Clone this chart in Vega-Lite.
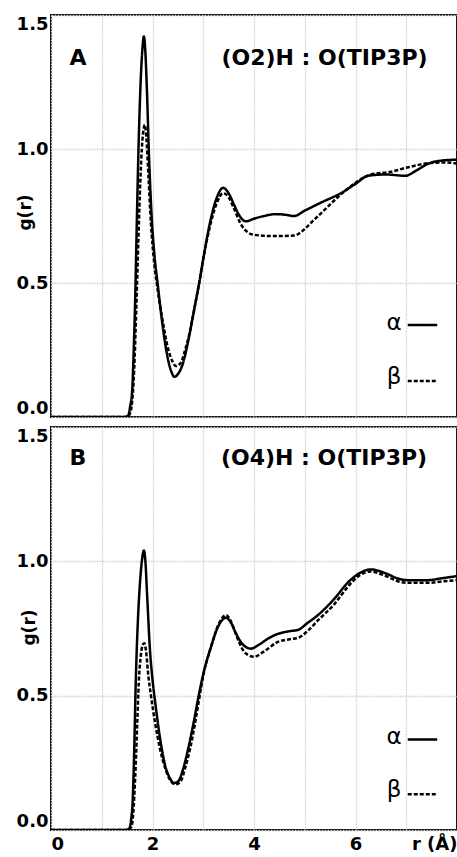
{
  "$schema": "https://vega.github.io/schema/vega-lite/v6.json",
  "padding": {"left": 15, "top": 14, "right": 0, "bottom": 0},
  "spacing": 8,
  "config": {
    "font": "DejaVu Sans",
    "view": {"stroke": "black", "strokeWidth": 2},
    "axis": {
      "labelFont": "DejaVu Sans", "labelFontWeight": "bold", "labelFontSize": 18, "labelColor": "black",
      "titleFont": "DejaVu Sans", "titleFontWeight": "bold", "titleFontSize": 17, "titleColor": "black",
      "ticks": false, "tickSize": 0, "domain": false,
      "gridColor": "#d6d6d6", "gridWidth": 1.3, "gridDash": [2, 1]
    }
  },
  "datasets": {
    "curves": [
      {"p":"A","s":"α","r":0,"g":0},{"p":"A","s":"α","r":1.45,"g":0},{"p":"A","s":"α","r":1.52,"g":0.005},{"p":"A","s":"α","r":1.56,"g":0.04},{"p":"A","s":"α","r":1.6,"g":0.1},{"p":"A","s":"α","r":1.63,"g":0.25},{"p":"A","s":"α","r":1.66,"g":0.45},{"p":"A","s":"α","r":1.69,"g":0.72},{"p":"A","s":"α","r":1.72,"g":0.97},{"p":"A","s":"α","r":1.76,"g":1.22},{"p":"A","s":"α","r":1.8,"g":1.37},{"p":"A","s":"α","r":1.83,"g":1.42},{"p":"A","s":"α","r":1.86,"g":1.36},{"p":"A","s":"α","r":1.89,"g":1.22},{"p":"A","s":"α","r":1.93,"g":0.98},{"p":"A","s":"α","r":1.98,"g":0.76},{"p":"A","s":"α","r":2.04,"g":0.6},{"p":"A","s":"α","r":2.1,"g":0.5},{"p":"A","s":"α","r":2.2,"g":0.34},{"p":"A","s":"α","r":2.3,"g":0.22},{"p":"A","s":"α","r":2.38,"g":0.165},{"p":"A","s":"α","r":2.43,"g":0.15},{"p":"A","s":"α","r":2.5,"g":0.16},{"p":"A","s":"α","r":2.6,"g":0.2},{"p":"A","s":"α","r":2.7,"g":0.28},{"p":"A","s":"α","r":2.8,"g":0.38},{"p":"A","s":"α","r":2.92,"g":0.5},{"p":"A","s":"α","r":3.0,"g":0.59},{"p":"A","s":"α","r":3.15,"g":0.74},{"p":"A","s":"α","r":3.27,"g":0.82},{"p":"A","s":"α","r":3.39,"g":0.855},{"p":"A","s":"α","r":3.5,"g":0.835},{"p":"A","s":"α","r":3.6,"g":0.795},{"p":"A","s":"α","r":3.7,"g":0.755},{"p":"A","s":"α","r":3.84,"g":0.73},{"p":"A","s":"α","r":4.0,"g":0.74},{"p":"A","s":"α","r":4.2,"g":0.75},{"p":"A","s":"α","r":4.43,"g":0.757},{"p":"A","s":"α","r":4.6,"g":0.755},{"p":"A","s":"α","r":4.79,"g":0.75},{"p":"A","s":"α","r":5.0,"g":0.77},{"p":"A","s":"α","r":5.32,"g":0.8},{"p":"A","s":"α","r":5.71,"g":0.835},{"p":"A","s":"α","r":6.0,"g":0.87},{"p":"A","s":"α","r":6.25,"g":0.9},{"p":"A","s":"α","r":6.6,"g":0.905},{"p":"A","s":"α","r":6.98,"g":0.9},{"p":"A","s":"α","r":7.2,"g":0.92},{"p":"A","s":"α","r":7.43,"g":0.945},{"p":"A","s":"α","r":7.76,"g":0.958},{"p":"A","s":"α","r":8.0,"g":0.96},
      {"p":"A","s":"β","r":0,"g":0},{"p":"A","s":"β","r":1.5,"g":0},{"p":"A","s":"β","r":1.55,"g":0.01},{"p":"A","s":"β","r":1.6,"g":0.06},{"p":"A","s":"β","r":1.64,"g":0.18},{"p":"A","s":"β","r":1.68,"g":0.4},{"p":"A","s":"β","r":1.72,"g":0.65},{"p":"A","s":"β","r":1.76,"g":0.88},{"p":"A","s":"β","r":1.8,"g":1.03},{"p":"A","s":"β","r":1.85,"g":1.09},{"p":"A","s":"β","r":1.88,"g":1.04},{"p":"A","s":"β","r":1.92,"g":0.9},{"p":"A","s":"β","r":1.97,"g":0.72},{"p":"A","s":"β","r":2.03,"g":0.58},{"p":"A","s":"β","r":2.09,"g":0.49},{"p":"A","s":"β","r":2.2,"g":0.36},{"p":"A","s":"β","r":2.3,"g":0.26},{"p":"A","s":"β","r":2.4,"g":0.205},{"p":"A","s":"β","r":2.46,"g":0.19},{"p":"A","s":"β","r":2.55,"g":0.2},{"p":"A","s":"β","r":2.65,"g":0.255},{"p":"A","s":"β","r":2.75,"g":0.33},{"p":"A","s":"β","r":2.85,"g":0.43},{"p":"A","s":"β","r":2.92,"g":0.5},{"p":"A","s":"β","r":3.0,"g":0.59},{"p":"A","s":"β","r":3.15,"g":0.725},{"p":"A","s":"β","r":3.27,"g":0.8},{"p":"A","s":"β","r":3.39,"g":0.835},{"p":"A","s":"β","r":3.5,"g":0.82},{"p":"A","s":"β","r":3.6,"g":0.78},{"p":"A","s":"β","r":3.74,"g":0.72},{"p":"A","s":"β","r":3.87,"g":0.69},{"p":"A","s":"β","r":4.0,"g":0.68},{"p":"A","s":"β","r":4.4,"g":0.675},{"p":"A","s":"β","r":4.79,"g":0.677},{"p":"A","s":"β","r":4.99,"g":0.7},{"p":"A","s":"β","r":5.15,"g":0.73},{"p":"A","s":"β","r":5.32,"g":0.76},{"p":"A","s":"β","r":5.65,"g":0.82},{"p":"A","s":"β","r":5.97,"g":0.87},{"p":"A","s":"β","r":6.3,"g":0.905},{"p":"A","s":"β","r":6.7,"g":0.915},{"p":"A","s":"β","r":7.0,"g":0.93},{"p":"A","s":"β","r":7.5,"g":0.948},{"p":"A","s":"β","r":7.8,"g":0.95},{"p":"A","s":"β","r":8.0,"g":0.945},
      {"p":"B","s":"α","r":0,"g":0},{"p":"B","s":"α","r":1.45,"g":0},{"p":"B","s":"α","r":1.54,"g":0.005},{"p":"B","s":"α","r":1.58,"g":0.04},{"p":"B","s":"α","r":1.61,"g":0.11},{"p":"B","s":"α","r":1.64,"g":0.3},{"p":"B","s":"α","r":1.67,"g":0.55},{"p":"B","s":"α","r":1.71,"g":0.77},{"p":"B","s":"α","r":1.75,"g":0.91},{"p":"B","s":"α","r":1.79,"g":1.0},{"p":"B","s":"α","r":1.83,"g":1.04},{"p":"B","s":"α","r":1.86,"g":1.0},{"p":"B","s":"α","r":1.89,"g":0.89},{"p":"B","s":"α","r":1.95,"g":0.67},{"p":"B","s":"α","r":2.0,"g":0.56},{"p":"B","s":"α","r":2.05,"g":0.48},{"p":"B","s":"α","r":2.15,"g":0.34},{"p":"B","s":"α","r":2.25,"g":0.24},{"p":"B","s":"α","r":2.35,"g":0.19},{"p":"B","s":"α","r":2.42,"g":0.175},{"p":"B","s":"α","r":2.5,"g":0.18},{"p":"B","s":"α","r":2.6,"g":0.225},{"p":"B","s":"α","r":2.7,"g":0.3},{"p":"B","s":"α","r":2.8,"g":0.39},{"p":"B","s":"α","r":2.91,"g":0.5},{"p":"B","s":"α","r":3.0,"g":0.58},{"p":"B","s":"α","r":3.15,"g":0.68},{"p":"B","s":"α","r":3.3,"g":0.76},{"p":"B","s":"α","r":3.45,"g":0.79},{"p":"B","s":"α","r":3.55,"g":0.77},{"p":"B","s":"α","r":3.65,"g":0.73},{"p":"B","s":"α","r":3.74,"g":0.7},{"p":"B","s":"α","r":3.85,"g":0.68},{"p":"B","s":"α","r":3.94,"g":0.675},{"p":"B","s":"α","r":4.1,"g":0.69},{"p":"B","s":"α","r":4.3,"g":0.715},{"p":"B","s":"α","r":4.47,"g":0.73},{"p":"B","s":"α","r":4.7,"g":0.74},{"p":"B","s":"α","r":4.87,"g":0.745},{"p":"B","s":"α","r":5.05,"g":0.77},{"p":"B","s":"α","r":5.26,"g":0.8},{"p":"B","s":"α","r":5.58,"g":0.86},{"p":"B","s":"α","r":5.87,"g":0.925},{"p":"B","s":"α","r":6.1,"g":0.958},{"p":"B","s":"α","r":6.3,"g":0.97},{"p":"B","s":"α","r":6.6,"g":0.955},{"p":"B","s":"α","r":6.85,"g":0.935},{"p":"B","s":"α","r":7.03,"g":0.93},{"p":"B","s":"α","r":7.43,"g":0.93},{"p":"B","s":"α","r":7.7,"g":0.937},{"p":"B","s":"α","r":8.0,"g":0.945},
      {"p":"B","s":"β","r":0,"g":0},{"p":"B","s":"β","r":1.5,"g":0},{"p":"B","s":"β","r":1.58,"g":0.01},{"p":"B","s":"β","r":1.62,"g":0.06},{"p":"B","s":"β","r":1.66,"g":0.2},{"p":"B","s":"β","r":1.7,"g":0.4},{"p":"B","s":"β","r":1.73,"g":0.55},{"p":"B","s":"β","r":1.77,"g":0.65},{"p":"B","s":"β","r":1.81,"g":0.69},{"p":"B","s":"β","r":1.84,"g":0.695},{"p":"B","s":"β","r":1.87,"g":0.67},{"p":"B","s":"β","r":1.92,"g":0.57},{"p":"B","s":"β","r":1.97,"g":0.5},{"p":"B","s":"β","r":2.05,"g":0.4},{"p":"B","s":"β","r":2.15,"g":0.3},{"p":"B","s":"β","r":2.25,"g":0.23},{"p":"B","s":"β","r":2.35,"g":0.185},{"p":"B","s":"β","r":2.45,"g":0.17},{"p":"B","s":"β","r":2.55,"g":0.18},{"p":"B","s":"β","r":2.65,"g":0.235},{"p":"B","s":"β","r":2.75,"g":0.31},{"p":"B","s":"β","r":2.85,"g":0.41},{"p":"B","s":"β","r":2.93,"g":0.5},{"p":"B","s":"β","r":3.0,"g":0.575},{"p":"B","s":"β","r":3.15,"g":0.68},{"p":"B","s":"β","r":3.3,"g":0.765},{"p":"B","s":"β","r":3.45,"g":0.8},{"p":"B","s":"β","r":3.55,"g":0.775},{"p":"B","s":"β","r":3.65,"g":0.725},{"p":"B","s":"β","r":3.8,"g":0.665},{"p":"B","s":"β","r":3.9,"g":0.65},{"p":"B","s":"β","r":4.0,"g":0.645},{"p":"B","s":"β","r":4.2,"g":0.665},{"p":"B","s":"β","r":4.47,"g":0.7},{"p":"B","s":"β","r":4.7,"g":0.71},{"p":"B","s":"β","r":4.87,"g":0.715},{"p":"B","s":"β","r":5.05,"g":0.74},{"p":"B","s":"β","r":5.26,"g":0.78},{"p":"B","s":"β","r":5.58,"g":0.84},{"p":"B","s":"β","r":5.87,"g":0.91},{"p":"B","s":"β","r":6.1,"g":0.95},{"p":"B","s":"β","r":6.3,"g":0.962},{"p":"B","s":"β","r":6.6,"g":0.945},{"p":"B","s":"β","r":6.85,"g":0.925},{"p":"B","s":"β","r":7.03,"g":0.92},{"p":"B","s":"β","r":7.43,"g":0.92},{"p":"B","s":"β","r":7.7,"g":0.925},{"p":"B","s":"β","r":8.0,"g":0.93}
    ],
    "notes": [
      {"p":"A","text":"A","r":0.53,"g":1.34},
      {"p":"A","text":"(O2)H : O(TIP3P)","r":5.39,"g":1.34},
      {"p":"B","text":"B","r":0.53,"g":1.385},
      {"p":"B","text":"(O4)H : O(TIP3P)","r":5.38,"g":1.385}
    ],
    "keys": [
      {"p":"A","s":"α","r":6.76,"r1":7.03,"r2":7.61,"g":0.343,"gt":0.35},
      {"p":"A","s":"β","r":6.76,"r1":7.03,"r2":7.61,"g":0.134,"gt":0.15},
      {"p":"B","s":"α","r":6.76,"r1":7.03,"r2":7.61,"g":0.337,"gt":0.345},
      {"p":"B","s":"β","r":6.76,"r1":7.03,"r2":7.61,"g":0.133,"gt":0.15}
    ]
  },
  "vconcat": [
    {
      "width": 406, "height": 402,
      "layer": [
        {
          "data": {"name": "curves"},
          "transform": [{"filter": "datum.p == 'A'"}],
          "mark": {"type": "line", "interpolate": "monotone", "strokeWidth": 2.5, "color": "black", "clip": true},
          "encoding": {
            "x": {"field": "r", "type": "quantitative", "scale": {"domain": [0, 8], "nice": false},
                  "axis": {"values": [0,1,2,3,4,5,6,7,8], "labels": false, "title": null, "grid": true}},
            "y": {"field": "g", "type": "quantitative", "scale": {"domain": [0, 1.5], "nice": false},
                  "axis": {"values": [0, 0.5, 1, 1.5], "format": ".1f", "labelFlush": true, "labelPadding": 3,
                           "title": "g(r)", "titleX": -26, "titleY": 197, "titleBaseline": "middle", "titleAlign": "center", "grid": true}},
            "strokeDash": {"field": "s", "type": "nominal", "scale": {"domain": ["α", "β"], "range": [[1, 0], [4, 2]]}, "legend": null}
          }
        },
        {
          "data": {"name": "notes"},
          "transform": [{"filter": "datum.p == 'A'"}],
          "mark": {"type": "text", "font": "DejaVu Sans", "fontWeight": "bold", "fontSize": 22, "align": "center", "baseline": "middle", "color": "black"},
          "encoding": {"x": {"field": "r", "type": "quantitative"}, "y": {"field": "g", "type": "quantitative"}, "text": {"field": "text"}}
        },
        {
          "data": {"name": "keys"},
          "transform": [{"filter": "datum.p == 'A'"}],
          "mark": {"type": "text", "font": "DejaVu Sans", "fontSize": 23, "align": "center", "baseline": "middle", "color": "black"},
          "encoding": {"x": {"field": "r", "type": "quantitative"}, "y": {"field": "gt", "type": "quantitative"}, "text": {"field": "s"}}
        },
        {
          "data": {"name": "keys"},
          "transform": [{"filter": "datum.p == 'A'"}],
          "mark": {"type": "rule", "strokeWidth": 2.5, "color": "black"},
          "encoding": {
            "x": {"field": "r1", "type": "quantitative"}, "x2": {"field": "r2"},
            "y": {"field": "g", "type": "quantitative"},
            "strokeDash": {"field": "s", "type": "nominal", "scale": {"domain": ["α", "β"], "range": [[1, 0], [4, 2]]}, "legend": null}
          }
        }
      ]
    },
    {
      "width": 406, "height": 403,
      "layer": [
        {
          "data": {"name": "curves"},
          "transform": [{"filter": "datum.p == 'B'"}],
          "mark": {"type": "line", "interpolate": "monotone", "strokeWidth": 2.5, "color": "black", "clip": true},
          "encoding": {
            "x": {"field": "r", "type": "quantitative", "scale": {"domain": [0, 8], "nice": false},
                  "axis": {"values": [0,1,2,3,4,5,6,7,8], "labelExpr": "datum.value % 2 == 1 ? '' : (datum.value == 8 ? 'r (Å)' : datum.label)",
                           "labelFlush": true, "labelPadding": 5, "title": null, "grid": true}},
            "y": {"field": "g", "type": "quantitative", "scale": {"domain": [0, 1.5], "nice": false},
                  "axis": {"values": [0, 0.5, 1, 1.5], "format": ".1f", "labelFlush": true, "labelPadding": 3,
                           "title": "g(r)", "titleX": -22, "titleY": 200, "titleBaseline": "middle", "titleAlign": "center", "grid": true}},
            "strokeDash": {"field": "s", "type": "nominal", "scale": {"domain": ["α", "β"], "range": [[1, 0], [4, 2]]}, "legend": null}
          }
        },
        {
          "data": {"name": "notes"},
          "transform": [{"filter": "datum.p == 'B'"}],
          "mark": {"type": "text", "font": "DejaVu Sans", "fontWeight": "bold", "fontSize": 22, "align": "center", "baseline": "middle", "color": "black"},
          "encoding": {"x": {"field": "r", "type": "quantitative"}, "y": {"field": "g", "type": "quantitative"}, "text": {"field": "text"}}
        },
        {
          "data": {"name": "keys"},
          "transform": [{"filter": "datum.p == 'B'"}],
          "mark": {"type": "text", "font": "DejaVu Sans", "fontSize": 23, "align": "center", "baseline": "middle", "color": "black"},
          "encoding": {"x": {"field": "r", "type": "quantitative"}, "y": {"field": "gt", "type": "quantitative"}, "text": {"field": "s"}}
        },
        {
          "data": {"name": "keys"},
          "transform": [{"filter": "datum.p == 'B'"}],
          "mark": {"type": "rule", "strokeWidth": 2.5, "color": "black"},
          "encoding": {
            "x": {"field": "r1", "type": "quantitative"}, "x2": {"field": "r2"},
            "y": {"field": "g", "type": "quantitative"},
            "strokeDash": {"field": "s", "type": "nominal", "scale": {"domain": ["α", "β"], "range": [[1, 0], [4, 2]]}, "legend": null}
          }
        }
      ]
    }
  ]
}
